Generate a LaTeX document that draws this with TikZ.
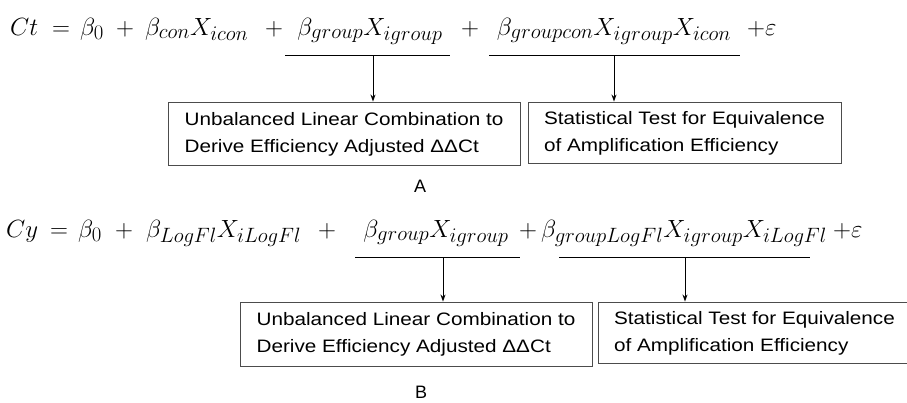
\documentclass[tikz,border=0pt]{standalone}
\usepackage{fontspec}
\usepackage{graphicx}
\usetikzlibrary{arrows.meta}
\newfontfamily\boxfont{Liberation Sans}
\DeclareMathSizes{30}{30}{22.5}{16}
\newcommand{\twolines}[2]{\scalebox{1.15}[1]{\begin{tabular}{@{}l@{}}#1\\#2\end{tabular}}}
\tikzset{
  infobox/.style={draw=black!70,line width=0.9pt,inner sep=0pt,minimum width=#1,
    minimum height=63pt,font=\boxfont\fontsize{18}{27}\selectfont},
  eqpart/.style={inner sep=0pt,anchor=base west,font=\fontsize{30}{34}\selectfont},
  eqterm/.style={inner sep=0pt,anchor=base,font=\fontsize{30}{34}\selectfont},
  underl/.style={line width=0.9pt},
  pointer/.style={line width=0.9pt,-{Stealth[length=7pt,width=5pt]}},
  panel/.style={inner sep=0pt,font=\boxfont\fontsize{18}{20}\selectfont}
}
\begin{document}
\begin{tikzpicture}[x=1pt,y=-1pt]
\useasboundingbox (0,0) rectangle (907,402);
% model A
\node[eqpart] (ctA) at (10,35) {$Ct$};
\node[eqterm] (eqA) at (61,35) {$=$};
\node[eqpart] (b0A) at (80,35) {$\beta_0$};
\node[eqterm] (plA1) at (125,35) {$+$};
\node[eqpart] (conA) at (145,35) {$\beta_{con}X_{icon}$};
\node[eqterm] (plA2) at (274,35) {$+$};
\node[eqterm] (grpA) at (370,35) {$\beta_{group}X_{igroup}$};
\node[eqterm] (plA3) at (470,35) {$+$};
\node[eqterm] (grpconA) at (614,35) {$\beta_{groupcon}X_{igroup}X_{icon}$};
\node[eqpart] (epsA) at (747,35) {$+\varepsilon$};
\draw[underl] (285,55) -- (450,55);
\draw[underl] (489,55) -- (740,55);
\coordinate (ulA1) at (373,55);
\coordinate (ulA2) at (614,55);
\node[infobox=352pt] (boxA1) at (344,133.5) {\twolines{Unbalanced Linear Combination to}{Derive Efficiency Adjusted ΔΔCt}};
\node[infobox=313pt,minimum height=61pt] (boxA2) at (684.5,132.5) {\twolines{Statistical Test for Equivalence}{of Amplification Efficiency}};
\draw[pointer] (ulA1) -- (ulA1 |- boxA1.north);
\draw[pointer] (ulA2) -- (ulA2 |- boxA2.north);
\node[panel] (labA) at (420,186) {A};
% model B
\node[eqpart] (cyB) at (6,237) {$Cy$};
\node[eqterm] (eqB) at (59,237) {$=$};
\node[eqpart] (b0B) at (78,237) {$\beta_0$};
\node[eqterm] (plB1) at (124,237) {$+$};
\node[eqpart] (logB) at (146,237) {$\beta_{LogFl}X_{iLogFl}$};
\node[eqterm] (plB2) at (327,237) {$+$};
\node[eqterm] (grpB) at (436,237) {$\beta_{group}X_{igroup}$};
\node[eqterm] (plB3) at (528,237) {$+$};
\node[eqterm] (grplogB) at (684,237) {$\beta_{groupLogFl}X_{igroup}X_{iLogFl}$};
\node[eqpart] (epsB) at (833,237) {$+\varepsilon$};
\draw[underl] (355,257) -- (520,257);
\draw[underl] (559,257) -- (810,257);
\coordinate (ulB1) at (443,257);
\coordinate (ulB2) at (685,257);
\node[infobox=352pt,minimum height=64pt] (boxB1) at (416,334) {\twolines{Unbalanced Linear Combination to}{Derive Efficiency Adjusted ΔΔCt}};
\node[infobox=313pt,minimum height=61pt] (boxB2) at (754.5,332.5) {\twolines{Statistical Test for Equivalence}{of Amplification Efficiency}};
\draw[pointer] (ulB1) -- (ulB1 |- boxB1.north);
\draw[pointer] (ulB2) -- (ulB2 |- boxB2.north);
\node[panel] (labB) at (421,392) {B};
\end{tikzpicture}
\end{document}
